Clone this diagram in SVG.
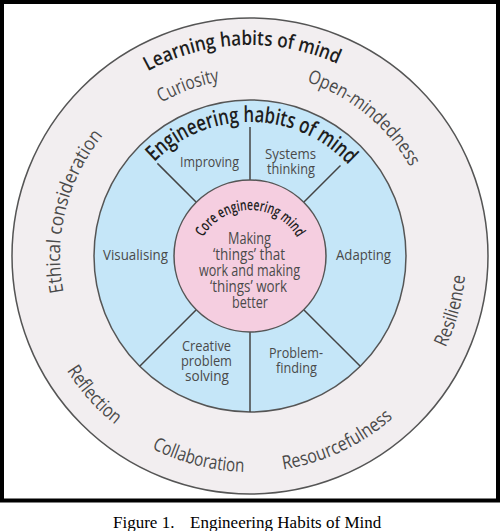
<svg xmlns="http://www.w3.org/2000/svg" width="500" height="531" viewBox="0 0 500 531">
<style>
.ring{stroke:#555;stroke-width:1.5}
.div{stroke:#444;stroke-width:1.5;fill:none}
.lbl{font-family:"Open Sans","Noto Sans",sans-serif;fill:#4a4a4a;font-size:19px}
.seg{font-family:"Open Sans","Noto Sans",sans-serif;fill:#4a4a4a;font-size:15px;text-anchor:middle}
.core{font-family:"Open Sans","Noto Sans",sans-serif;fill:#4a4a4a;font-size:17px;text-anchor:middle}
.ttl{font-family:"Open Sans","Noto Sans",sans-serif;fill:#1e1e1e;font-weight:600}
.arc{text-anchor:middle}
.cap{font-family:"Liberation Serif","Times New Roman",serif;font-size:17px;fill:#000}
</style>
<defs>
<path id="cw177" d="M250,433 A177,177 0 1 1 250,79 A177,177 0 1 1 250,433"/>
<path id="cw183" d="M250,439 A183,183 0 1 1 250,73 A183,183 0 1 1 250,439"/>
<path id="cw190" d="M250,446 A190,190 0 1 1 250,66 A190,190 0 1 1 250,446"/>
<path id="cw211" d="M250,467 A211,211 0 1 1 250,45 A211,211 0 1 1 250,467"/>
<path id="cw134" d="M250,390 A134,134 0 1 1 250,122 A134,134 0 1 1 250,390"/>
<path id="cwcore" d="M250,318 A54,54 0 1 1 250,210 A54,54 0 1 1 250,318"/>
<path id="ccw216" d="M250,40 A216,216 0 1 0 250,472 A216,216 0 1 0 250,40"/>
</defs>
<rect x="0" y="0" width="500" height="531" fill="#fff"/>
<rect x="2" y="2" width="496" height="498.5" fill="#fff" stroke="#000" stroke-width="4"/>
<g id="learning-ring">
<circle class="ring" cx="250" cy="256" r="238" fill="#f2eef0"/>
<text class="ttl arc" font-size="20"><textPath href="#cw211" startOffset="49.389%" textLength="197" lengthAdjust="spacingAndGlyphs">Learning habits of mind</textPath></text>
<text class="lbl arc"><textPath href="#cw177" startOffset="44.444%" textLength="62" lengthAdjust="spacingAndGlyphs">Curiosity</textPath></text>
<text class="lbl arc"><textPath href="#cw183" startOffset="60.972%" textLength="137" lengthAdjust="spacingAndGlyphs">Open-mindedness</textPath></text>
<text class="lbl arc"><textPath href="#cw190" startOffset="28.944%" textLength="167" lengthAdjust="spacingAndGlyphs">Ethical consideration</textPath></text>
<text class="lbl arc"><textPath href="#ccw216" startOffset="70.778%" textLength="75" lengthAdjust="spacingAndGlyphs">Resilience</textPath></text>
<text class="lbl arc"><textPath href="#ccw216" startOffset="36.583%" textLength="73" lengthAdjust="spacingAndGlyphs">Reflection</textPath></text>
<text class="lbl arc"><textPath href="#ccw216" startOffset="46.028%" textLength="96" lengthAdjust="spacingAndGlyphs">Collaboration</textPath></text>
<text class="lbl arc"><textPath href="#ccw216" startOffset="56.986%" textLength="123" lengthAdjust="spacingAndGlyphs">Resourcefulness</textPath></text>
</g>
<g id="engineering-ring">
<circle class="ring" cx="250" cy="256" r="156" fill="#c5e6f8"/>
<text class="ttl arc" font-size="22"><textPath href="#cw134" startOffset="50.236%" textLength="217" lengthAdjust="spacingAndGlyphs">Engineering habits of mind</textPath></text>
</g>
<g id="connectors">
<line class="div" x1="250" y1="127" x2="250" y2="180"/>
<line class="div" x1="250" y1="332" x2="250" y2="412"/>
<line class="div" x1="157.4" y1="163.4" x2="196.3" y2="202.3"/>
<line class="div" x1="340.5" y1="165.5" x2="303.7" y2="202.3"/>
<line class="div" x1="139.7" y1="366.3" x2="196.3" y2="309.7"/>
<line class="div" x1="360.3" y1="366.3" x2="303.7" y2="309.7"/>
</g>
<g id="improving"><text class="seg" x="209.5" y="167" textLength="59" lengthAdjust="spacingAndGlyphs">Improving</text></g>
<g id="systems-thinking"><text class="seg" x="290.5" y="159" textLength="51" lengthAdjust="spacingAndGlyphs">Systems</text><text class="seg" x="291" y="174" textLength="48" lengthAdjust="spacingAndGlyphs">thinking</text></g>
<g id="visualising"><text class="seg" x="135.5" y="260" textLength="65" lengthAdjust="spacingAndGlyphs">Visualising</text></g>
<g id="adapting"><text class="seg" x="363.5" y="260" textLength="55" lengthAdjust="spacingAndGlyphs">Adapting</text></g>
<g id="creative-problem-solving"><text class="seg" x="206.5" y="350.5" textLength="49" lengthAdjust="spacingAndGlyphs">Creative</text><text class="seg" x="206.5" y="365.5" textLength="51" lengthAdjust="spacingAndGlyphs">problem</text><text class="seg" x="207" y="380.5" textLength="44" lengthAdjust="spacingAndGlyphs">solving</text></g>
<g id="problem-finding"><text class="seg" x="296" y="358" textLength="54" lengthAdjust="spacingAndGlyphs">Problem-</text><text class="seg" x="296.5" y="373" textLength="41" lengthAdjust="spacingAndGlyphs">finding</text></g>
<g id="core-mind">
<circle class="ring" cx="250" cy="256" r="76" fill="#f5cee0"/>
<text class="ttl arc" font-size="15" font-weight="700" fill="#333"><textPath href="#cwcore" startOffset="50.07%" textLength="114" lengthAdjust="spacingAndGlyphs">Core engineering mind</textPath></text>
<text class="core" x="249.5" y="244" textLength="43" lengthAdjust="spacingAndGlyphs">Making</text>
<text class="core" x="249" y="260" textLength="72" lengthAdjust="spacingAndGlyphs">‘things’ that</text>
<text class="core" x="249.5" y="276" textLength="101" lengthAdjust="spacingAndGlyphs">work and making</text>
<text class="core" x="248.5" y="292" textLength="77" lengthAdjust="spacingAndGlyphs">‘things’ work</text>
<text class="core" x="250" y="308" textLength="36" lengthAdjust="spacingAndGlyphs">better</text>
</g>
<g id="caption">
<text class="cap" x="113" y="528">Figure 1.</text>
<text class="cap" x="190" y="528">Engineering Habits of Mind</text>
</g>
</svg>
